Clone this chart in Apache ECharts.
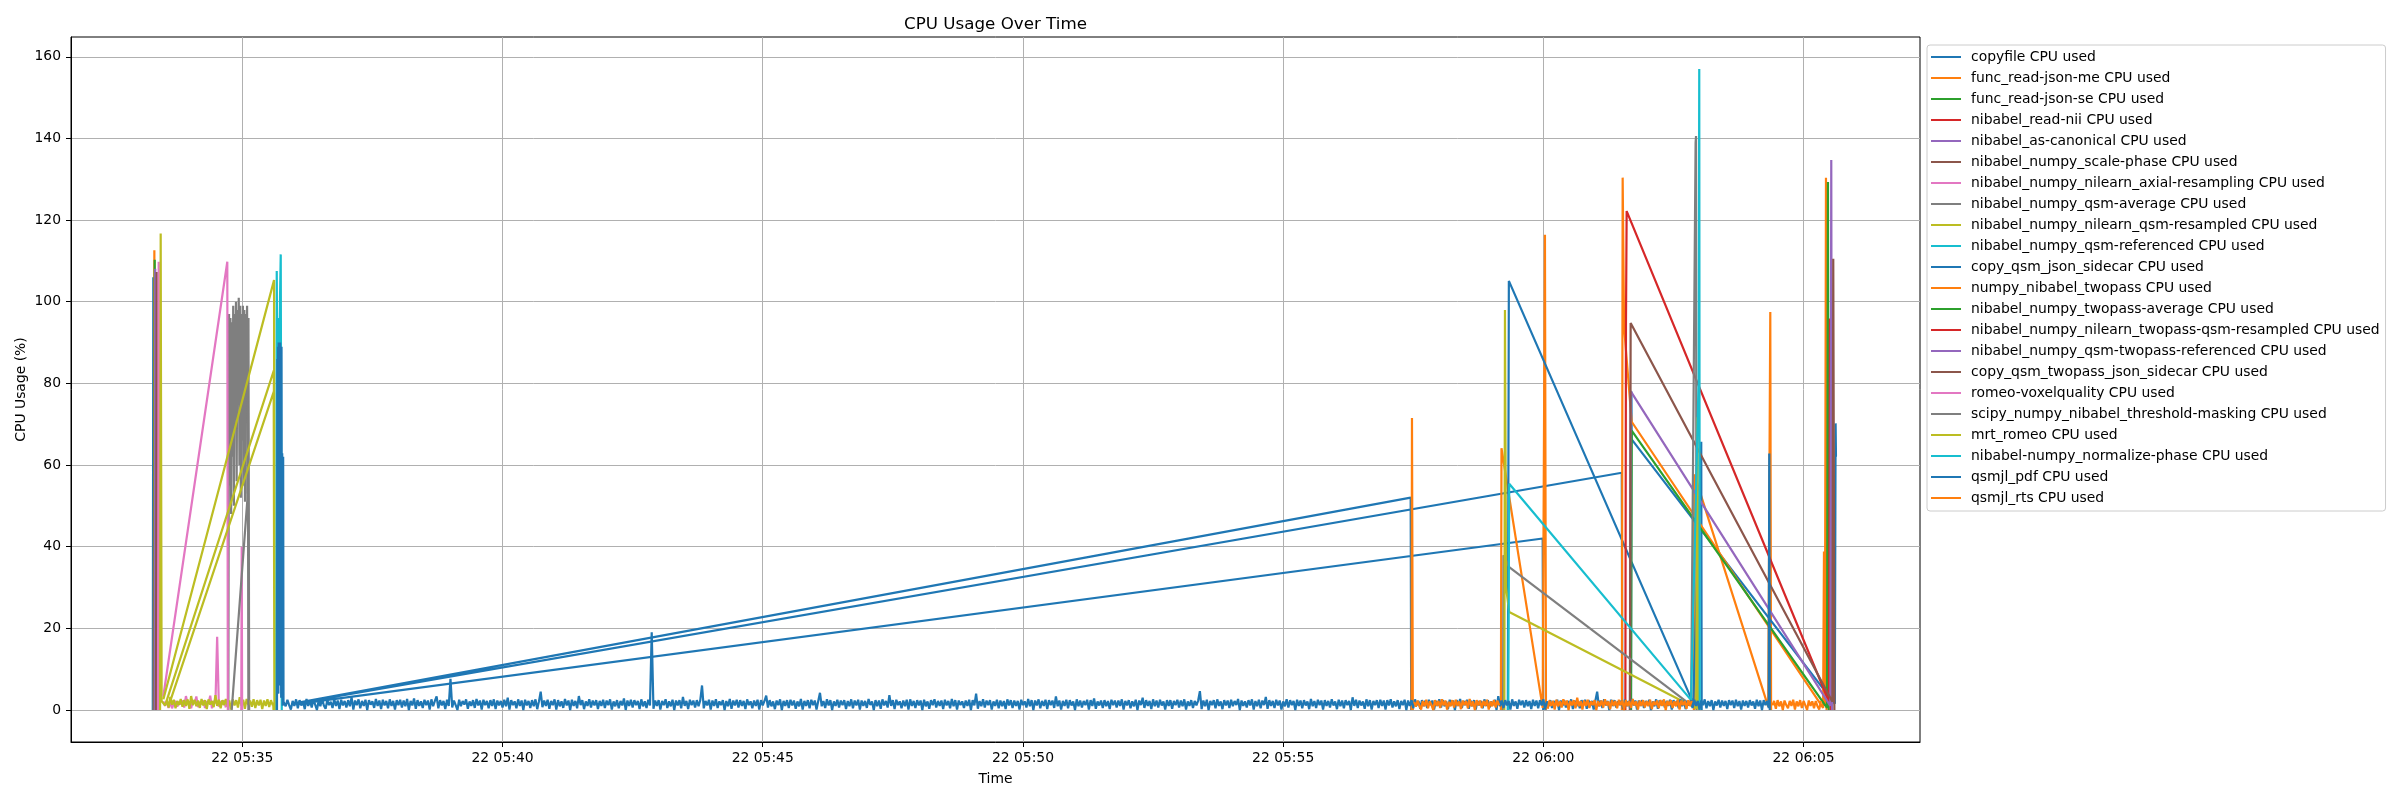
<!DOCTYPE html>
<html><head><meta charset="utf-8">
<script src="https://cdn.jsdelivr.net/npm/echarts@6/dist/echarts.min.js"></script>
<style>html,body{margin:0;padding:0;background:#fff}#c{width:2400px;height:800px}</style>
</head><body><div id="c"></div>
<script>
// ---------- labels / ticks ----------
const chartTitle = 'CPU Usage Over Time';
const xName = 'Time';
const yName = 'CPU Usage (%)';
const xTickTimes = ['05:35', '05:40', '05:45', '05:50', '05:55', '06:00', '06:05'];
const yTicks = [0, 20, 40, 60, 80, 100, 120, 140, 160];
const xRange = ['05:31:42.5', '06:07:14.2'];
const yRange = [-7.85, 164.85];

const seriesNames = [
  'copyfile CPU used', 'func_read-json-me CPU used', 'func_read-json-se CPU used',
  'nibabel_read-nii CPU used', 'nibabel_as-canonical CPU used', 'nibabel_numpy_scale-phase CPU used',
  'nibabel_numpy_nilearn_axial-resampling CPU used', 'nibabel_numpy_qsm-average CPU used',
  'nibabel_numpy_nilearn_qsm-resampled CPU used', 'nibabel_numpy_qsm-referenced CPU used',
  'copy_qsm_json_sidecar CPU used', 'numpy_nibabel_twopass CPU used', 'nibabel_numpy_twopass-average CPU used',
  'nibabel_numpy_nilearn_twopass-qsm-resampled CPU used', 'nibabel_numpy_qsm-twopass-referenced CPU used',
  'copy_qsm_twopass_json_sidecar CPU used', 'romeo-voxelquality CPU used',
  'scipy_numpy_nibabel_threshold-masking CPU used', 'mrt_romeo CPU used',
  'nibabel-numpy_normalize-phase CPU used', 'qsmjl_pdf CPU used', 'qsmjl_rts CPU used'
];
const palette = ['#1f77b4', '#ff7f0e', '#2ca02c', '#d62728', '#9467bd', '#8c564b', '#e377c2', '#7f7f7f', '#bcbd22', '#17becf'];

// ---------- series values ([time, cpu %], null = gap) ----------
const copyfile = [['05:33:16.8',0],['05:33:17.4',106],['05:33:18',0],null,
  ['05:36:00',1.6],['05:57:27',52.0],['05:57:27.6',0],null,
  ['05:36:02',1.6],['06:01:30.4',58.1],['06:01:31',0],null,
  ['05:36:04',1.5],['05:59:59.2',42.0],['05:59:59.8',0]];
const funcReadJsonMe = [['05:33:18',0],['05:33:18.6',112.6],['05:33:19.5',0],null,
  ['05:57:28',0],['05:57:28.5',71.5],['05:57:29.5',0],null,
  ['05:59:11',0],['05:59:11.7',64.1],['05:59:59.2',0.5],['06:00:01.8',116.4],['06:00:03',0],null,
  ['06:02:53.5',0],['06:02:54',57.7],['06:04:19.2',0.8],['06:04:21.6',97.5],['06:04:22.5',0]];
const funcReadJsonSe = [['05:33:18.5',0],['05:33:19',110.3],['05:33:20',0]];
const nibabelReadNii = [['05:33:19',0],['05:33:19.8',105],['05:33:20.8',0]];
const nibabelAsCanonical = [['05:33:19',0],['05:33:19.6',108.1],['05:33:20.5',0]];
const scalePhase = [['05:33:20.5',0],['05:33:21.3',107.3],['05:33:22',0]];
const axialSpike = [['05:33:22.8',0],['05:33:23.6',109.8],['05:33:24.4',0]];
const axialBandStart = '05:33:29', axialBandStep = 2;
const axialBand = [2.1,1.0,2.3,0.5,1.9,0.4,1.6,2.2,0.8,2.0,1.4,2.3,0.6,3.4,1.5,2.1,0.4,2.2,1.6,3.3,0.7,2.0,1.4,2.3,0.5,2.1,1.5,3.5,0.4,2.2,1.6,17.9,0.8,2.1,1.4,2.3,0.6];
const qsmAverageStart = '05:34:43.9', qsmAverageStep = 0.8;
const qsmAverage = [0,97,55,96,48,95,62,99,50,97,73,100,56,98,80,101,60,99,52,97,66,99,55,98,51,97,75,99,53,96,0];
const qsmResampledSpike = [['05:33:25.2',0],['05:33:25.9',116.7],['05:33:27',2.2]];
const qsmResampledBandStart = '05:33:29', qsmResampledBandStep = 2;
const qsmResampledBand = [2.6,1.1,2.4,0.6,3.2,1.3,2.5,0.4,2.2,1.2,2.7,0.8,2.4,1.0,2.6,0.3,3.4,1.2,2.5,0.9,2.3,0.5,2.7,1.1,2.4,0.2,2.6,1.3,2.2,0.7,3.6,1.0,2.5,0.4,2.4,1.2,2.7,0.8,2.3,0.1,2.6,1.1,2.4,0.6,3.1,1.0,2.5,0.3,2.7,1.2,2.3,0.8,2.6,0.5,2.4,1.1,2.5,0.2,2.3,1.0,2.6,0.7,2.4,1.2];
const qsmResampledTail = [['05:35:35.5',1.8],['05:35:36',0]];
const qsmReferenced = [['05:35:39',0],['05:35:39.7',107.5],['05:35:40.5',72],['05:35:41.5',96],['05:35:42.5',80],['05:35:43.5',101],['05:35:44.3',111.6],['05:35:45',45],['05:35:45.5',0]];
const copyQsmJsonSidecar = [['05:59:19',0],['05:59:20.2',105.1],['06:02:52.8',1.6],['06:03:02',65.7],['06:03:02.5',0],null,
  ['06:01:41',0],['06:01:41.5',78],['06:01:41.8',66.3],['06:05:36',1.5],['06:05:36.9',70.2],['06:05:37.3',62]];
const numpyNibabelTwopass = [['06:01:30.5',0],['06:01:31.4',130.4],['06:01:33',94],['06:01:41.8',70.6],['06:05:22.5',0.5],['06:05:23.5',38.8],['06:05:24.5',1],['06:05:25.8',130.4],['06:05:26.5',0]];
const twopassAverage = [['06:01:41',0],['06:01:41.8',68.4],['06:05:27',0.5],['06:05:28.1',129.3],['06:05:29',0]];
const twopassQsmResampled = [['06:01:34.5',0],['06:01:35.2',94],['06:01:36',122.2],['06:05:29.3',2],['06:05:30.4',95.9],['06:05:31.3',0]];
const qsmTwopassReferenced = [['06:01:39.8',0],['06:01:40.6',78.1],['06:05:30.8',1],['06:05:31.9',134.7],['06:05:32.8',0]];
const copyQsmTwopassJsonSidecar = [['06:01:39.8',0],['06:01:40.6',94.8],['06:05:33.2',2],['06:05:34.2',110.5],['06:05:34.8',63.6],['06:05:35.5',0]];
const romeoVoxelquality = [['05:33:28.9',3.3],['05:34:42.7',109.8],['05:34:43.3',0],null,['05:34:58.8',0],['05:34:59.3',40],['05:34:59.8',0]];
const thresholdMasking = [['05:34:47.8',0],['05:35:05.8',51.4],['05:35:06.4',80],['05:35:07',0],null,
  ['05:59:13.5',0],['05:59:14',37.9],['05:59:20.6',35.0],['06:02:50.3',1.2],['06:02:55.5',139],['06:02:56',140.6],['06:02:56.5',0]];
const mrtRomeo = [['05:33:29',2.6],['05:35:36.6',105.3],['05:35:37',0.5],null,
  ['05:33:33',2.4],['05:35:36.4',83.2],['05:35:37',0],null,
  ['05:33:37',2.2],['05:35:36.2',77.9],['05:35:37',0.3],null,
  ['05:59:15',0],['05:59:15.7',98],['05:59:17',30],['05:59:20.6',24.0],['06:02:56.2',0.4],['06:02:57.8',71.7],['06:02:58.5',0]];
const normalizePhase = [['05:59:19.5',0],['05:59:20.6',55.4],['06:02:50.3',2.4],['06:02:59',81],['06:02:59.7',157],['06:03:00.3',0]];
const qsmjlPdfBurst = [['05:35:40',0],['05:35:40.4',86],['05:35:40.8',8],['05:35:41.2',89],['05:35:41.6',4],['05:35:42',90],['05:35:42.4',15],['05:35:42.8',88],['05:35:43.2',6],['05:35:43.6',90],['05:35:44',25],['05:35:44.4',87],['05:35:44.8',3],['05:35:45.2',89],['05:35:45.6',10],['05:35:46',62.9],['05:35:46.6',1],['05:35:47.1',62],['05:35:47.5',2]];
const qsmjlPdfBandStart = '05:35:48', qsmjlPdfBandStep = 2;
const qsmjlPdfBand = [
  2.3,0.9,2.5,1.2,0.1,2.2,1.0,2.6,0.4,2.4,1.1,2.1,0.2,2.7,1.0,2.3,0.6,2.5,1.3,0.0,2.2,0.9,2.8,1.1,0.3,2.4,1.2,2.0,0.5,2.6,
  1.0,2.3,0.2,2.5,1.1,2.2,0.6,2.4,0.9,3.1,0.1,2.3,1.2,2.6,0.4,2.2,1.0,2.5,0.0,2.4,1.3,2.1,0.5,2.7,1.0,2.3,0.2,2.5,1.1,2.2,
  0.4,2.6,1.0,2.2,0.1,2.4,1.2,2.5,0.6,2.3,0.9,2.7,0.0,2.2,1.1,2.8,0.3,2.4,1.0,2.1,0.5,2.5,1.2,2.3,0.1,2.6,0.9,2.2,3.3,0.4,
  2.4,1.1,2.2,0.2,2.5,1.0,7.6,0.6,2.3,1.2,0.0,2.5,0.9,2.2,1.3,2.6,0.3,2.1,1.0,2.4,0.5,2.7,1.1,2.3,0.1,2.5,1.2,2.2,0.4,2.4,
  1.0,2.6,0.2,2.3,1.1,2.2,0.6,2.5,0.9,3.0,0.1,2.4,1.2,2.1,0.4,2.6,1.0,2.3,0.0,2.5,1.1,2.2,0.5,2.4,0.9,2.6,0.2,2.1,4.5,0.7,
  2.3,1.0,2.5,0.3,2.2,1.2,2.6,0.1,2.4,0.9,2.1,0.5,2.7,1.1,2.3,0.0,2.5,1.0,2.2,0.4,3.4,1.2,2.4,0.2,2.1,1.0,2.6,0.6,2.3,1.1,
  2.4,0.2,2.2,1.0,2.5,0.5,2.3,1.2,2.6,0.1,2.1,0.9,2.4,0.4,2.2,1.1,2.8,0.0,2.3,1.0,2.5,0.6,2.4,1.2,2.2,0.2,2.6,0.9,2.1,0.5,
  2.5,1.1,19.0,0.3,2.3,1.0,2.4,0.1,2.2,1.2,2.6,0.5,2.1,0.9,2.5,0.0,2.3,1.1,2.4,0.4,3.2,1.0,2.2,0.2,2.5,1.2,2.3,0.6,2.4,0.9,
  2.4,6.0,0.4,2.2,1.1,2.5,0.1,2.3,1.0,2.6,0.5,2.1,1.2,2.4,0.0,2.2,0.9,2.7,0.3,2.3,1.1,2.5,0.6,2.4,1.0,2.2,0.2,2.6,1.2,2.1,
  0.4,2.3,1.0,2.5,0.1,2.4,1.1,2.2,3.5,0.6,2.4,0.9,2.1,0.2,2.3,1.2,2.6,0.0,2.2,1.0,2.4,0.5,2.5,1.1,2.3,0.3,2.1,0.9,2.7,0.1,
  2.2,1.0,2.4,0.4,2.5,1.2,2.3,0.1,2.2,4.2,0.9,2.2,0.5,2.6,1.1,2.4,0.0,2.1,1.0,2.5,0.6,2.3,1.2,2.4,0.2,2.2,0.9,2.6,0.4,2.3,
  1.1,2.5,0.1,2.3,1.0,2.2,0.5,2.7,1.2,2.1,0.0,2.4,0.9,2.3,0.3,2.6,1.1,2.2,0.6,3.6,1.0,2.4,0.2,2.5,1.2,2.1,0.4,2.3,0.9,2.5,
  0.1,2.6,1.0,2.2,0.5,2.4,1.1,2.3,0.0,2.5,0.9,2.1,0.3,2.4,1.2,2.6,0.6,2.2,1.0,2.3,0.2,2.5,1.1,2.2,0.4,2.7,0.9,2.4,0.1,2.3,
  1.2,2.1,0.5,2.3,1.0,2.5,0.0,2.4,1.1,4.0,0.3,2.2,0.9,2.6,0.6,2.3,1.2,2.4,0.1,2.1,1.0,2.5,0.4,2.3,0.9,2.2,0.2,2.6,1.1,2.4,
  0.5,2.3,1.0,2.2,0.1,2.5,1.2,2.1,0.6,2.7,0.9,2.4,0.0,2.3,1.1,2.6,0.4,2.2,1.0,2.5,0.2,2.4,1.2,2.3,0.5,3.3,0.9,2.3,0.1,2.2,
  1.0,2.5,0.4,2.4,1.1,2.1,0.0,2.6,0.9,2.3,0.6,2.2,1.2,2.5,0.1,2.4,1.0,2.8,0.3,2.1,1.1,2.3,0.5,2.4,0.9,2.2,0.2,2.5,1.2,2.3,
  0.6,2.3,1.0,2.6,0.1,2.2,1.1,2.4,0.4,2.1,0.9,2.5,0.0,2.3,1.2,3.0,0.5,2.4,1.0,2.2,0.2,2.6,0.9,2.3,0.6,2.5,1.1,2.1,0.1,2.4,
  1.0,2.4,0.3,2.2,1.2,2.5,0.6,2.3,0.9,2.6,0.1,2.1,1.0,2.4,0.5,2.2,1.1,2.3,4.6,0.2,2.3,0.9,2.5,0.0,2.2,1.2,2.4,0.4,2.6,1.0,
  2.1,0.2,2.4,1.1,2.3,0.5,2.5,0.9,2.2,1.2,2.7,0.0,2.3,1.0,2.1,0.6,2.4,1.1,2.6,0.1,2.2,0.9,2.5,0.4,2.3,1.2,3.2,0.3,2.4,1.0,
  2.2,0.5,2.5,1.1,2.3,0.1,2.1,0.9,2.6,0.6,2.4,1.2,2.2,0.0,2.5,1.0,2.3,0.4,2.4,1.1,2.1,0.2,2.7,0.9,2.2,0.5,2.5,1.2,2.3,0.1,
  2.4,1.0,2.2,0.6,2.6,1.1,2.1,0.2,2.5,0.9,2.3,0.4,2.4,1.2,2.2,0.0,3.1,1.0,2.5,0.5,2.3,1.1,2.1,0.3,2.6,0.9,2.4,0.1,2.2,1.2,
  2.4,0.5,2.5,1.0,2.3,0.1,2.4,1.1,2.6,0.6,2.1,0.9,2.4,0.2,2.2,1.2,2.5,0.0,2.3,1.0,2.4,0.4,2.6,1.1,2.2,0.3,2.4,0.9,2.3,0.5,
  2.5,1.2,2.3,0.1,2.2,1.0,2.6,0.6,2.4,0.9,2.1,0.2,2.5,1.1,2.3,0.0,2.4,1.0,2.7,0.5,2.2,1.2,2.5,0.3,2.3,0.9,2.4,0.1,2.2,1.1,
  2.2,0.4,2.6,1.0,2.4,0.6,2.1,1.2,2.5,0.0,3.4,0.9,2.3,0.5,2.4,1.1,2.2,0.1,2.6,1.0,2.1,0.3,2.5,1.2,2.3,0.6,2.4,0.9,2.2,0.2,
  2.5,1.0,2.3,0.4,2.4,1.1,2.6,0.1,2.1,0.9,2.4,0.5,2.2,1.2,2.5,0.0,2.3,1.0,2.4,0.6,2.2,1.1,2.6,0.2,2.3,0.9,2.1,0.4,2.4,1.2,
  2.5,0.3,2.4,1.0,2.2,0.1,2.3,4.5,0.9,2.3,0.5,2.6,1.1,2.2,0.0,2.5,1.0,2.4,0.6,2.1,1.2,2.3,0.2,2.5,0.9,2.2,0.4,2.7,1.1,2.3,
  0.1,2.3,1.0,2.4,0.5,2.2,1.2,2.5,0.0,2.1,0.9,2.6,0.3,2.4,1.1,2.3,0.6,2.2,1.0,2.5,0.1,2.4,1.2,2.2,0.4,2.6,0.9,2.3,0.2,2.1,
  1.1,2.4,0.5,2.5,1.0,2.2,0.1,2.3,1.2,2.6,0.4,2.2,0.9,2.4,0.0,2.1,1.1,2.5,0.6,2.3,1.0,2.2,0.2,2.4,1.2,2.3,0.5,2.5,0.9,2.2,
  0.1,2.3,1.0,2.2,0.6,2.4,1.1,2.1,0.3,2.5,0.9,2.3,0.0,2.4,1.2,2.2];
const qsmjlPdfTail = [['06:04:19.8',0.5],['06:04:20.4',62.8],['06:04:21',0]];
const qsmjlRtsAStart = '05:57:31', qsmjlRtsBStart = '06:00:05', qsmjlRtsCStart = '06:04:24', qsmjlRtsStep = 2;
const qsmjlRtsA = [2.0,0.8,2.3,1.1,0.1,2.2,0.9,2.5,0.4,2.1,1.2,0.0,2.4,1.0,2.2,0.5,2.6,1.1,2.3,0.1,2.0,0.9,2.4,0.6,2.5,1.0,2.1,0.2,2.3,1.2,2.2,0.4,2.7,0.9,2.1,0.0,2.4,1.1,2.3,0.5,2.2,1.0,2.5,0.1,2.1,0.9,2.4,0.6,2.3,1.1];
const qsmjlRtsB = [0.3,2.3,1.0,2.2,0.1,2.5,0.9,2.1,0.6,2.6,1.2,2.3,0.0,2.2,1.1,2.4,0.4,3.0,0.9,2.2,0.1,2.3,1.0,2.5,0.5,2.1,1.2,2.4,0.0,2.2,0.9,2.3,0.6,2.6,1.1,2.1,0.2,2.4,1.0,2.2,0.4,2.5,1.2,2.3,0.0,2.4,0.9,2.2,0.5,2.7,1.1,2.1,0.1,2.3,1.0,2.4,0.6,2.2,0.9,2.5,0.2,2.1,1.2,2.3,0.4,2.4,1.0,2.6,0.0,2.2,1.1,2.4,0.5,2.1,0.9,2.5,0.1,2.3,1.2,2.2,0.3,2.4,1.0,2.2];
const qsmjlRtsC = [1.1,2.2,0.3,2.4,0.9,2.1,0.0,2.3,1.2,0.4,2.2,1.0,2.5,0.1,2.1,0.9,2.4,0.5,2.2,1.1,0.0,2.3,1.0,2.1,0.4,2.2,0.9,0.1,2.2];

// ---------- helpers ----------
const BASE = 5 * 3600 + 30 * 60; // seconds of 05:30:00
function sec(t) { const p = t.split(':').map(Number); return p[0] * 3600 + p[1] * 60 + (p[2] || 0) - BASE; }
function pts(arr) { return arr.map(p => p ? [sec(p[0]), p[1]] : ['-', '-']); }
function band(start, step, vals) { const s0 = sec(start); return vals.map((v, i) => [s0 + i * step, v]); }
const GAP = [['-', '-']];
const seriesData = [
  pts(copyfile),
  pts(funcReadJsonMe),
  pts(funcReadJsonSe),
  pts(nibabelReadNii),
  pts(nibabelAsCanonical),
  pts(scalePhase),
  pts(axialSpike).concat(GAP, band(axialBandStart, axialBandStep, axialBand)),
  band(qsmAverageStart, qsmAverageStep, qsmAverage),
  pts(qsmResampledSpike).concat(band(qsmResampledBandStart, qsmResampledBandStep, qsmResampledBand), pts(qsmResampledTail)),
  pts(qsmReferenced),
  pts(copyQsmJsonSidecar),
  pts(numpyNibabelTwopass),
  pts(twopassAverage),
  pts(twopassQsmResampled),
  pts(qsmTwopassReferenced),
  pts(copyQsmTwopassJsonSidecar),
  pts(romeoVoxelquality),
  pts(thresholdMasking),
  pts(mrtRomeo),
  pts(normalizePhase),
  pts(qsmjlPdfBurst).concat(band(qsmjlPdfBandStart, qsmjlPdfBandStep, qsmjlPdfBand), pts(qsmjlPdfTail)),
  band(qsmjlRtsAStart, qsmjlRtsStep, qsmjlRtsA).concat(GAP, band(qsmjlRtsBStart, qsmjlRtsStep, qsmjlRtsB), GAP, band(qsmjlRtsCStart, qsmjlRtsStep, qsmjlRtsC))
];

const FONT = 'DejaVu Sans';
const pad2 = n => String(n).padStart(2, '0');
function fmtX(v) { const t = Math.round(BASE + v); return '22 ' + pad2(Math.floor(t / 3600)) + ':' + pad2(Math.floor((t % 3600) / 60)); }
const xTicks = xTickTimes.map(sec);

const G = { left: 71, right: 480, top: 37, bottom: 58 };
const plotCenterX = G.left + (2400 - G.left - G.right) / 2;
const ctx = document.createElement('canvas').getContext('2d');
ctx.font = '16.7px "DejaVu Sans"';
const titleW = ctx.measureText(chartTitle).width;

const chart = echarts.init(document.getElementById('c'), null, { renderer: 'canvas' });
chart.setOption({
  animation: false,
  backgroundColor: '#ffffff',
  title: {
    text: chartTitle, left: plotCenterX - titleW / 2, top: 16, padding: 0,
    textStyle: { fontFamily: FONT, fontSize: 16.7, fontWeight: 'normal', color: '#000' }
  },
  grid: { left: G.left, right: G.right, top: G.top, bottom: G.bottom, show: true, borderColor: '#000', borderWidth: 1, containLabel: false },
  legend: {
    orient: 'vertical', left: 1927, top: 45, padding: [5, 6, 6, 4], itemGap: 7,
    itemWidth: 30, itemHeight: 2, icon: 'rect',
    backgroundColor: '#fff', borderColor: '#cccccc', borderWidth: 1, borderRadius: 3,
    textStyle: { fontFamily: FONT, fontSize: 13.9, color: '#000', padding: [0, 0, 0, 5], lineHeight: 14 },
    data: seriesNames
  },
  xAxis: {
    type: 'value', min: sec(xRange[0]), max: sec(xRange[1]),
    name: xName, nameLocation: 'middle', nameGap: 30, nameMoveOverlap: false,
    nameTextStyle: { fontFamily: FONT, fontSize: 13.9, color: '#000' },
    axisLine: { show: true, onZero: false, lineStyle: { color: '#000', width: 1 } },
    axisTick: { show: true, length: 5, customValues: xTicks, lineStyle: { color: '#000', width: 1 } },
    axisLabel: { customValues: xTicks, formatter: fmtX, margin: 9, color: '#000', fontFamily: FONT, fontSize: 13.9 },
    splitLine: { show: true, lineStyle: { color: '#b0b0b0', width: 1 } }
  },
  yAxis: {
    type: 'value', min: yRange[0], max: yRange[1],
    name: yName, nameLocation: 'middle', nameGap: 43, nameMoveOverlap: false,
    nameTextStyle: { fontFamily: FONT, fontSize: 13.9, color: '#000' },
    axisLine: { show: true, onZero: false, lineStyle: { color: '#000', width: 1 } },
    axisTick: { show: true, length: 5, customValues: yTicks, lineStyle: { color: '#000', width: 1 } },
    axisLabel: { customValues: yTicks, margin: 10, color: '#000', fontFamily: FONT, fontSize: 13.9 },
    splitLine: { show: true, lineStyle: { color: '#b0b0b0', width: 1 } }
  },
  series: seriesNames.map((name, i) => ({
    type: 'line', name: name, data: seriesData[i],
    showSymbol: false, symbol: 'none', connectNulls: false, silent: true,
    lineStyle: { width: 2.2, color: palette[i % 10] },
    itemStyle: { color: palette[i % 10] }
  }))
});
</script>
</body></html>
